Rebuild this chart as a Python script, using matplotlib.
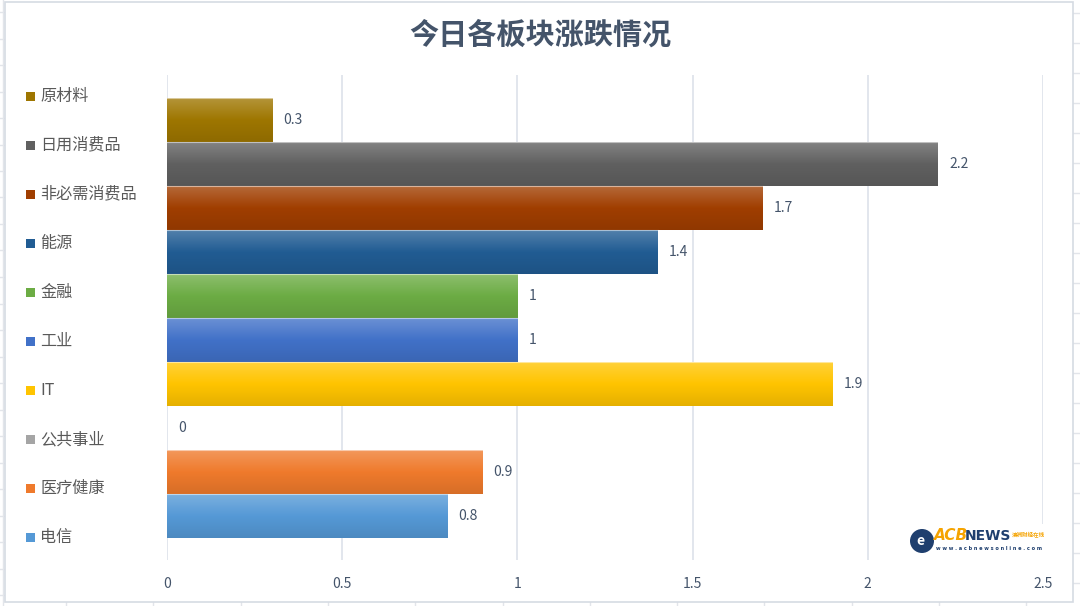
import matplotlib
matplotlib.use("Agg")
import matplotlib.pyplot as plt
import numpy as np
from matplotlib.colors import LinearSegmentedColormap, to_rgb
from matplotlib.patches import Rectangle, Ellipse
from matplotlib.lines import Line2D

plt.rcParams['font.family'] = ['Noto Sans CJK SC', 'DejaVu Sans']

title = "今日各板块涨跌情况"
sectors = ["原材料", "日用消费品", "非必需消费品", "能源", "金融",
           "工业", "IT", "公共事业", "医疗健康", "电信"]
changes = [0.3, 2.2, 1.7, 1.4, 1, 1, 1.9, 0, 0.9, 0.8]
colors = ["#9E7600", "#606060", "#A03E00", "#215C93", "#6CAC44",
          "#4171C8", "#FFC400", "#A5A5A5", "#EF7A2C", "#5599D6"]
xticks = [0, 0.5, 1, 1.5, 2, 2.5]
xtick_labels = ["0", "0.5", "1", "1.5", "2", "2.5"]

W, H = 1080, 606
fig = plt.figure(figsize=(W / 100, H / 100), dpi=100)
fig.patch.set_facecolor("white")


def fx(x):
    return x / W


def fy(y):
    return 1 - y / H


text_col = "#44546A"
grid_col = "#DDE2EA"

# spreadsheet grid around the chart object
sheet = "#E2E5EA"
for y in np.arange(13, 606, 30):
    fig.add_artist(Line2D([fx(1073), fx(1080)], [fy(y), fy(y)], color=sheet, lw=1, zorder=-5))
for y in np.arange(12, 606, 26.5):
    fig.add_artist(Line2D([fx(0), fx(5)], [fy(y), fy(y)], color=sheet, lw=1, zorder=-5))
for x in np.arange(66, 1073, 87.3):
    fig.add_artist(Line2D([fx(x), fx(x)], [fy(602), fy(606)], color=sheet, lw=1, zorder=-5))
fig.add_artist(Line2D([fx(3), fx(3)], [fy(0), fy(606)], color=sheet, lw=1, zorder=-5))
fig.add_artist(Rectangle((fx(5), fy(602)), fx(1068), 600 / H, transform=fig.transFigure,
                         facecolor="white", edgecolor="#D6DBE3", lw=1.2, zorder=-4))

ax = fig.add_axes([fx(167), fy(560), fx(1043 - 167), (560 - 75) / H])
ax.set_facecolor("none")

ypos = np.arange(len(sectors))
bars = ax.barh(ypos, changes, height=1.0, color=colors, edgecolor="none", zorder=2)

for bar, c, v, y in zip(bars, colors, changes, ypos):
    base = np.array(to_rgb(c))
    light = base + (1 - base) * 0.22
    dark = base * 0.9
    cmap = LinearSegmentedColormap.from_list("g", [light, base, dark])
    if v > 0:
        grad = np.linspace(0, 1, 64).reshape(-1, 1)
        im = ax.imshow(grad, cmap=cmap, aspect="auto", origin="upper",
                       extent=(0, v, y + 0.5, y - 0.5), zorder=3)
        im.set_clip_path(bar)
        ax.plot([0, v], [y - 0.5, y - 0.5], color="white", lw=0.8, alpha=0.5, zorder=4)
    ax.annotate(f"{v:g}", (v, y), xytext=(8, 0), textcoords="offset points",
                ha="left", va="center", fontsize=10, color=text_col)

ax.set_xlim(0, 2.5)
ax.set_ylim(10.0, -1.023)
ax.set_xticks(xticks)
ax.set_xticklabels(xtick_labels, fontsize=10, color=text_col)
ax.set_yticks([])
ax.tick_params(axis="x", length=0, pad=12)
ax.grid(axis="x", color=grid_col, lw=1.2, zorder=0)
ax.set_axisbelow(True)
for s in ax.spines.values():
    s.set_visible(False)

fig.text(0.5, fy(35), title, ha="center", va="center", fontsize=21,
         color=text_col, fontweight="bold")

# legend at left
for i, (name, c) in enumerate(zip(sectors, colors)):
    yc = 96 + i * 49.1
    fig.add_artist(Rectangle((fx(26), fy(yc + 4.5)), fx(9), 9 / H,
                             transform=fig.transFigure, facecolor=c, edgecolor="none"))
    fig.text(fx(40), fy(yc), name, ha="left", va="center", fontsize=11.6, color="#595959")

# watermark logo
fig.add_artist(Rectangle((fx(905), fy(560)), fx(150), 36 / H, transform=fig.transFigure,
                         facecolor="white", edgecolor="none", zorder=5))
fig.add_artist(Ellipse((fx(922), fy(541)), fx(24), 24 / H, transform=fig.transFigure,
                       facecolor="#1F3F6E", edgecolor="none", zorder=6))
fig.text(fx(920), fy(541), "e", ha="center", va="center", fontsize=10,
         color="white", fontweight="bold", style="italic", zorder=7)
fig.text(fx(934), fy(536), "ACB", ha="left", va="center", fontsize=11,
         color="#F5A300", fontweight="bold", style="italic", family="DejaVu Sans", zorder=7)
fig.text(fx(965), fy(536), "NEWS", ha="left", va="center", fontsize=10,
         color="#1F3F6E", fontweight="bold", family="DejaVu Sans", zorder=7)
fig.text(fx(1012), fy(535), "澳洲财经在线", ha="left", va="center", fontsize=4,
         color="#F5A300", fontweight="bold", zorder=7)
fig.text(fx(936), fy(549), "w w w . a c b n e w s o n l i n e . c o m", ha="left",
         va="center", fontsize=3.6, color="#1F3F6E", fontweight="bold",
         family="DejaVu Sans", zorder=7)

fig.savefig("out.png", dpi=100, facecolor="white")
